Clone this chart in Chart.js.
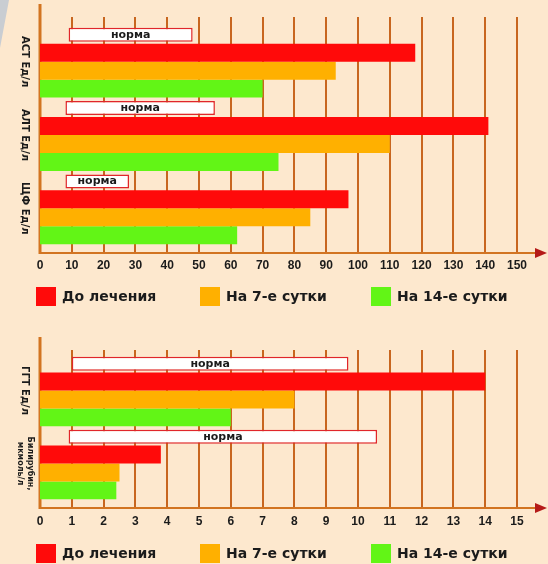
<!DOCTYPE html>
<html lang="ru">
<head>
<meta charset="utf-8">
<title>Динамика биохимических показателей</title>
<script src="https://cdn.jsdelivr.net/npm/chart.js@4.4.1/dist/chart.umd.min.js"></script>
<style>
  html, body { margin: 0; padding: 0; width: 548px; height: 564px; overflow: hidden; background: #FDE8CE; }
  .panel { position: absolute; left: 0; width: 548px; }
  #panelTop { top: 0; height: 320px; }
  #panelBottom { top: 320px; height: 244px; }
  .edge { position: absolute; left: 0; top: 0; width: 9px; height: 48px; background: #c9cdd2;
          clip-path: polygon(0 0, 100% 0, 0 100%); }
</style>
</head>
<body>
<div class="edge"></div>
<div class="panel" id="panelTop"><canvas id="enzymes"></canvas></div>
<div class="panel" id="panelBottom"><canvas id="ggtBili"></canvas></div>
<script>
// Series names
const seriesNames = ['До лечения', 'На 7-е сутки', 'На 14-е сутки'];
const normName = 'норма';

// Upper panel: enzymes
const enzymeCategories = ['АСТ Ед/л', 'АЛТ Ед/л', 'ЩФ Ед/л'];
const enzymeNorm = [[9, 48], [8, 55], [8, 28]];
const enzymeBefore = [118, 141, 97];
const enzymeDay7 = [93, 110, 85];
const enzymeDay14 = [70, 75, 62];
const enzymeTicks = [0, 10, 20, 30, 40, 50, 60, 70, 80, 90, 100, 110, 120, 130, 140, 150];

// Lower panel: GGT and bilirubin
const lowerCategories = ['ГГТ Ед/л', ['Билирубин,', 'мкмоль/л']];
const lowerNorm = [[1, 9.7], [0.9, 10.6]];
const lowerBefore = [14, 3.8];
const lowerDay7 = [8, 2.5];
const lowerDay14 = [6, 2.4];
const lowerTicks = [0, 1, 2, 3, 4, 5, 6, 7, 8, 9, 10, 11, 12, 13, 14, 15];

const COLORS = {
  red: '#FF0A0A',
  orange: '#FFB000',
  green: '#62F516',
  grid: '#C8661F',
  axis: '#D27421',
  arrow: '#B51A18',
  normBorder: '#E0262B',
  text: '#1b1b1b'
};

// Grid lines, axes with arrow, "норма" captions and rotated category names
const framePlugin = {
  id: 'frame',
  beforeDatasetsDraw(chart, args, opts) {
    const { ctx, scales: { x } } = chart;
    ctx.save();
    ctx.strokeStyle = COLORS.grid;
    ctx.lineWidth = 2;
    x.ticks.forEach(t => {
      if (t.value === 0) return;
      const px = Math.round(x.getPixelForValue(t.value));
      ctx.beginPath();
      ctx.moveTo(px, opts.gridTop);
      ctx.lineTo(px, opts.axisY);
      ctx.stroke();
    });
    const x0 = Math.round(x.getPixelForValue(0));
    // horizontal axis with arrow head
    ctx.strokeStyle = COLORS.axis;
    ctx.lineWidth = 2;
    ctx.beginPath();
    ctx.moveTo(x0, opts.axisY);
    ctx.lineTo(opts.arrowEnd - 8, opts.axisY);
    ctx.stroke();
    ctx.fillStyle = COLORS.arrow;
    ctx.beginPath();
    ctx.moveTo(opts.arrowEnd, opts.axisY);
    ctx.lineTo(opts.arrowEnd - 12, opts.axisY - 5);
    ctx.lineTo(opts.arrowEnd - 12, opts.axisY + 5);
    ctx.closePath();
    ctx.fill();
    // vertical axis
    ctx.strokeStyle = COLORS.axis;
    ctx.lineWidth = 3;
    ctx.beginPath();
    ctx.moveTo(x0, opts.axisTop);
    ctx.lineTo(x0, opts.axisY + 1);
    ctx.stroke();
    ctx.restore();
  },
  afterDatasetsDraw(chart, args, opts) {
    const { ctx, scales: { y } } = chart;
    ctx.save();
    // caption inside each norm range bar
    const normMeta = chart.getDatasetMeta(0);
    ctx.font = 'bold 11px "DejaVu Sans"';
    ctx.fillStyle = COLORS.text;
    ctx.textAlign = 'center';
    ctx.textBaseline = 'middle';
    normMeta.data.forEach(bar => {
      ctx.fillText(chart.data.datasets[0].label, (bar.x + bar.base) / 2, bar.y);
    });
    // category names, rotated along the vertical axis
    chart.data.labels.forEach((lab, i) => {
      const lines = Array.isArray(lab) ? lab : [lab];
      const cy = y.getPixelForValue(i);
      const single = lines.length === 1;
      ctx.font = single ? 'bold 10px "DejaVu Sans"' : 'bold 8px "DejaVu Sans"';
      lines.forEach((line, k) => {
        const cx = single ? opts.labelX : opts.labelX + 5 - k * 10;
        ctx.save();
        ctx.translate(cx, cy);
        ctx.rotate(Math.PI / 2);
        ctx.fillText(line, 0, 0);
        ctx.restore();
      });
    });
    ctx.restore();
  },
  // colour key under the plot
  afterDraw(chart, args, opts) {
    const { ctx } = chart;
    const items = chart.data.datasets.slice(1);
    const boxW = 20, boxH = 19, textGap = 6, gap = 44;
    ctx.save();
    ctx.font = 'bold 14px "DejaVu Sans"';
    const widths = items.map(d => boxW + textGap + ctx.measureText(d.label).width);
    const total = widths.reduce((a, b) => a + b, 0) + gap * (items.length - 1);
    let left = opts.keyCenter - total / 2;
    items.forEach((d, i) => {
      ctx.fillStyle = d.backgroundColor;
      ctx.fillRect(Math.round(left), opts.keyTop, boxW, boxH);
      ctx.fillStyle = COLORS.text;
      ctx.textAlign = 'left';
      ctx.textBaseline = 'middle';
      ctx.fillText(d.label, Math.round(left) + boxW + textGap, opts.keyTop + boxH / 2 + 1);
      left += widths[i] + gap;
    });
    ctx.restore();
  }
};

function buildChart(canvasId, cats, norm, before, day7, day14, ticks, frame, pad, tickPad) {
  const tickFont = { family: 'Liberation Sans', size: 12, weight: 'bold' };
  return new Chart(document.getElementById(canvasId), {
    type: 'bar',
    data: {
      labels: cats,
      datasets: [
        { label: normName, data: norm, backgroundColor: '#FFFFFF', borderColor: COLORS.normBorder,
          borderWidth: 1.5, borderSkipped: false, barPercentage: 0.78 },
        { label: seriesNames[0], data: before, backgroundColor: COLORS.red },
        { label: seriesNames[1], data: day7, backgroundColor: COLORS.orange },
        { label: seriesNames[2], data: day14, backgroundColor: COLORS.green }
      ]
    },
    options: {
      indexAxis: 'y',
      responsive: true,
      maintainAspectRatio: false,
      animation: false,
      datasets: { bar: { categoryPercentage: 0.98, barPercentage: 1, borderWidth: 0 } },
      layout: { padding: pad },
      scales: {
        x: {
          type: 'linear',
          min: ticks[0],
          max: ticks[ticks.length - 1],
          afterBuildTicks: s => { s.ticks = ticks.map(v => ({ value: v })); },
          afterFit: s => { s.height = 30; },
          grid: { display: false, drawTicks: false },
          border: { display: false },
          ticks: { font: tickFont, color: COLORS.text, padding: tickPad, maxRotation: 0, autoSkip: false }
        },
        y: {
          type: 'category',
          afterFit: s => { s.width = 13; },
          grid: { display: false, drawTicks: false },
          border: { display: false },
          ticks: { display: false }
        }
      },
      plugins: {
        tooltip: { enabled: false },
        legend: { display: false },
        frame: frame
      }
    },
    plugins: [framePlugin]
  });
}

buildChart('enzymes', enzymeCategories, enzymeNorm, enzymeBefore, enzymeDay7, enzymeDay14, enzymeTicks,
  { gridTop: 17, axisTop: 4, axisY: 253, arrowEnd: 547, labelX: 25, keyTop: 287, keyCenter: 272 },
  { top: 25, left: 27, right: 31, bottom: 45 }, 13);

buildChart('ggtBili', lowerCategories, lowerNorm, lowerBefore, lowerDay7, lowerDay14, lowerTicks,
  { gridTop: 30, axisTop: 17, axisY: 188, arrowEnd: 547, labelX: 25, keyTop: 224, keyCenter: 272 },
  { top: 34, left: 27, right: 31, bottom: 34 }, 14);
</script>
</body>
</html>
